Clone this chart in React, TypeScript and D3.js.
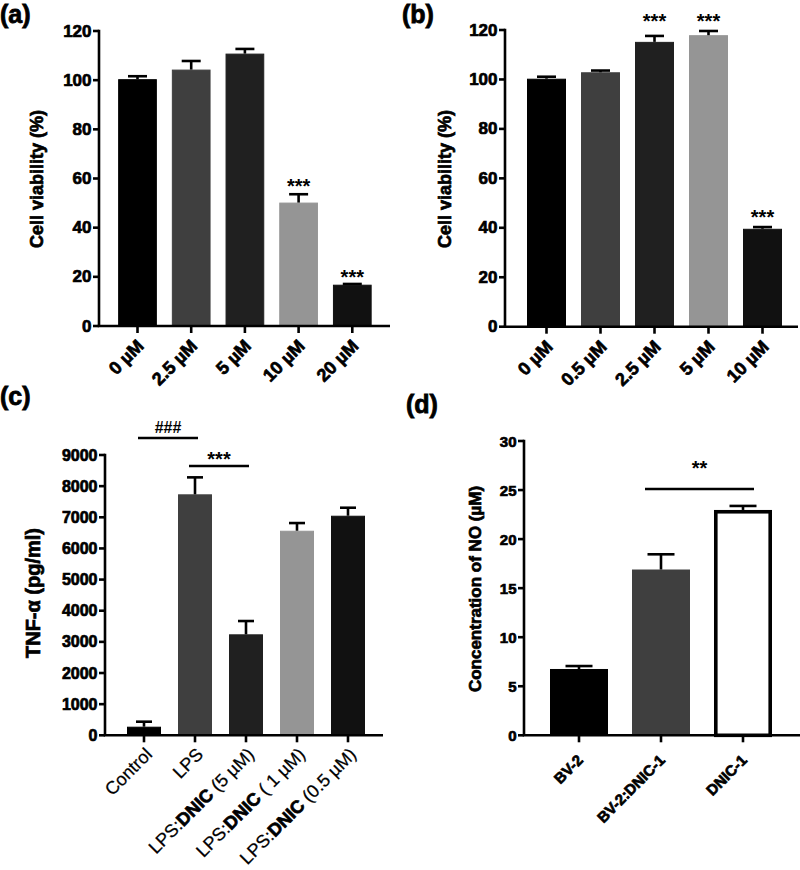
import React from "react";
import * as d3 from "d3";

const FONT = "'Liberation Sans', Arial, Helvetica, sans-serif";

// ---------- Panel (a) ----------
const catsA = ["0 µM", "2.5 µM", "5 µM", "10 µM", "20 µM"];
const valsA = [100.4, 104.3, 110.8, 50.2, 16.8];
const errsA = [1.2, 3.5, 1.9, 3.4, 0.3];
const starsA = ["", "", "", "***", "***"];
const starValsA = [0, 0, 0, 59, 22];
const fillsA = ["#000000", "#3f3f3f", "#202020", "#959595", "#111111"];
const ticksA = [0, 20, 40, 60, 80, 100, 120];

// ---------- Panel (b) ----------
const catsB = ["0 µM", "0.5 µM", "2.5 µM", "5 µM", "10 µM"];
const valsB = [100.3, 102.9, 115.2, 117.9, 39.6];
const errsB = [0.8, 0.7, 2.4, 1.7, 0.7];
const starsB = ["", "", "***", "***", "***"];
const starValsB = [0, 0, 125.3, 125.3, 46.4];
const fillsB = ["#000000", "#3f3f3f", "#202020", "#959595", "#111111"];
const ticksB = [0, 20, 40, 60, 80, 100, 120];

// ---------- Panel (c) ----------
const catsC = ["Control", "LPS", "LPS:DNIC (5 µM)", "LPS:DNIC ( 1 µM)", "LPS:DNIC (0.5 µM)"];
const valsC = [276, 7737, 3242, 6568, 7050];
const errsC = [161, 545, 427, 247, 257];
const fillsC = ["#000000", "#3f3f3f", "#202020", "#959595", "#111111"];
const ticksC = [0, 1000, 2000, 3000, 4000, 5000, 6000, 7000, 8000, 9000];
const bracketsC = [
  { from: 0, to: 1, label: "###", lineVal: 9544, labelVal: 9897 },
  { from: 1, to: 2, label: "***", lineVal: 8645, labelVal: 9030 },
];

// ---------- Panel (d) ----------
const catsD = ["BV-2", "BV-2:DNIC-1", "DNIC-1"];
const valsD = [6.76, 16.9, 22.97];
const errsD = [0.3, 1.55, 0.41];
const fillsD = ["#000000", "#3f3f3f", "#ffffff"];
const ticksD = [0, 5, 10, 15, 20, 25, 30];
const bracketsD = [{ from: 1, to: 2, label: "**", lineVal: 25.1, labelVal: 27.76 }];

type PanelProps = {
  cats: string[];
  vals: number[];
  errs: number[];
  fills: string[];
  ticks: number[];
  stars?: string[];
  starVals?: number[];
  brackets?: { from: number; to: number; label: string; lineVal: number; labelVal: number }[];
  axisX: number;
  yTop: number;
  y0: number;
  xEnd: number;
  c0: number;
  step: number;
  barW: number;
  capHalf: number;
  tickFs: number;
  xFs: number;
  xBold: boolean;
  xDx: number;
  xDy: number;
  yLabel: string;
  yLabelX: number;
  yLabelY: number;
  yLabelFs: number;
  starFs: number;
  bracketL: number;
  bracketR: number;
  richDNIC?: boolean;
};

const HEAVY = { stroke: "#000", strokeWidth: 0.7, paintOrder: "stroke" as const };
const HEAVY_BOLD_SPAN = { stroke: "#000", strokeWidth: 0.7 };

function Panel(p: PanelProps) {
  const n = p.cats.length;
  const pi = 1 - p.barW / p.step;
  const x = d3
    .scaleBand<string>()
    .domain(p.cats)
    .range([p.c0 - p.step / 2, p.c0 - p.step / 2 + n * p.step])
    .paddingInner(pi)
    .paddingOuter(pi / 2);
  const yMax = p.ticks[p.ticks.length - 1];
  const y = d3.scaleLinear().domain([0, yMax]).range([p.y0, p.yTop]);
  const bw = x.bandwidth();
  const cx = (c: string) => (x(c) as number) + bw / 2;
  const LW = 2.6;

  const renderLabel = (c: string) => {
    if (p.richDNIC && c.includes("DNIC")) {
      const i = c.indexOf("DNIC");
      return (
        <>
          <tspan>{c.slice(0, i)}</tspan>
          <tspan fontWeight="bold" {...HEAVY_BOLD_SPAN}>DNIC</tspan>
          <tspan>{c.slice(i + 4)}</tspan>
        </>
      );
    }
    return c;
  };

  return (
    <g fontFamily={FONT}>
      {/* bars */}
      {p.cats.map((c, i) => {
        const white = p.fills[i] === "#ffffff";
        const sw = white ? 3.6 : 1;
        const top = y(p.vals[i]);
        return (
          <rect
            key={"b" + i}
            x={(x(c) as number) + sw / 2}
            y={top + sw / 2}
            width={bw - sw}
            height={p.y0 - top - sw / 2}
            fill={p.fills[i]}
            stroke={white ? "#000" : p.fills[i]}
            strokeWidth={sw}
          />
        );
      })}
      {/* error bars */}
      {p.cats.map((c, i) => {
        const top = y(p.vals[i]);
        const et = y(p.vals[i] + p.errs[i]);
        return (
          <g key={"e" + i} stroke="#000" strokeWidth={LW}>
            <line x1={cx(c)} x2={cx(c)} y1={top} y2={et} />
            <line x1={cx(c) - p.capHalf} x2={cx(c) + p.capHalf} y1={et} y2={et} />
          </g>
        );
      })}
      {/* stars */}
      {p.stars &&
        p.stars.map((s, i) =>
          s ? (
            <text
              key={"s" + i}
              x={cx(p.cats[i])}
              y={y((p.starVals as number[])[i]) + p.starFs * 0.58}
              textAnchor="middle"
              fontSize={p.starFs}
              fontWeight="bold"
            >
              {s}
            </text>
          ) : null
        )}
      {/* brackets */}
      {p.brackets &&
        p.brackets.map((b, i) => {
          const x1 = cx(p.cats[b.from]) + p.bracketL;
          const x2 = cx(p.cats[b.to]) + p.bracketR;
          const isHash = b.label.includes("#");
          return (
            <g key={"k" + i}>
              <line x1={x1} x2={x2} y1={y(b.lineVal)} y2={y(b.lineVal)} stroke="#000" strokeWidth={LW} />
              <text
                x={(x1 + x2) / 2}
                y={y(b.labelVal) + (isHash ? 16 * 0.36 : p.starFs * 0.58)}
                textAnchor="middle"
                fontSize={isHash ? 16 : p.starFs}
                fontWeight="bold"
              >
                {b.label}
              </text>
            </g>
          );
        })}
      {/* y axis */}
      <line x1={p.axisX} x2={p.axisX} y1={p.yTop - LW / 2} y2={p.y0} stroke="#000" strokeWidth={LW} />
      {p.ticks.map((t) => (
        <g key={"t" + t}>
          <line x1={p.axisX - 6} x2={p.axisX} y1={y(t)} y2={y(t)} stroke="#000" strokeWidth={LW} />
          <text
            x={p.axisX - 7.5}
            y={y(t)}
            textAnchor="end"
            dominantBaseline="central"
            fontSize={p.tickFs}
            fontWeight="bold"
            {...HEAVY}
          >
            {t}
          </text>
        </g>
      ))}
      {/* x axis */}
      <line x1={p.axisX - LW / 2} x2={p.xEnd} y1={p.y0} y2={p.y0} stroke="#000" strokeWidth={LW} />
      {p.cats.map((c, i) => (
        <g key={"x" + i}>
          <line x1={cx(c)} x2={cx(c)} y1={p.y0} y2={p.y0 + 7} stroke="#000" strokeWidth={LW} />
          <text
            transform={`translate(${cx(c) + p.xDx},${p.y0 + p.xDy}) rotate(-45)`}
            textAnchor="end"
            dominantBaseline="central"
            fontSize={p.xFs}
            fontWeight={p.xBold ? "bold" : "normal"}
            stroke="#000"
            strokeWidth={p.xBold ? 0.7 : 0.25}
          >
            {renderLabel(c)}
          </text>
        </g>
      ))}
      {/* y label */}
      <text
        transform={`translate(${p.yLabelX},${p.yLabelY}) rotate(-90)`}
        textAnchor="middle"
        dominantBaseline="central"
        fontSize={p.yLabelFs}
        fontWeight="bold"
        {...HEAVY}
      >
        {p.yLabel}
      </text>
    </g>
  );
}

export default function App() {
  return (
    <div style={{ position: "absolute", left: 0, top: 0 }}>
      <svg width={800} height={870} style={{ display: "block", background: "#fff" }}>
        <rect width={800} height={870} fill="#fff" />
        <g fontFamily={FONT} fontWeight="bold" fontSize={25} stroke="#000" strokeWidth={0.8}>
          <text x={0} y={23}>(a)</text>
          <text x={402} y={23}>(b)</text>
          <text x={0} y={405}>(c)</text>
          <text x={406} y={413}>(d)</text>
        </g>
        <Panel
          cats={catsA} vals={valsA} errs={errsA} fills={fillsA} ticks={ticksA}
          stars={starsA} starVals={starValsA}
          axisX={99} yTop={31} y0={326} xEnd={390} c0={137.5} step={53.7} barW={38.7} capHalf={9.5}
          tickFs={17} xFs={18} xBold={true} xDx={3} xDy={17}
          yLabel="Cell viability (%)" yLabelX={37} yLabelY={179} yLabelFs={18}
          starFs={20} bracketL={0} bracketR={0}
        />
        <Panel
          cats={catsB} vals={valsB} errs={errsB} fills={fillsB} ticks={ticksB}
          stars={starsB} starVals={starValsB}
          axisX={505} yTop={30} y0={326.7} xEnd={798} c0={546.5} step={54} barW={39} capHalf={9.5}
          tickFs={17} xFs={18} xBold={true} xDx={3} xDy={17}
          yLabel="Cell viability (%)" yLabelX={445} yLabelY={179} yLabelFs={18}
          starFs={20} bracketL={0} bracketR={0}
        />
        <Panel
          cats={catsC} vals={valsC} errs={errsC} fills={fillsC} ticks={ticksC}
          brackets={bracketsC}
          axisX={105} yTop={455} y0={735.3} xEnd={383} c0={144} step={51} barW={34} capHalf={8}
          tickFs={16} xFs={18} xBold={false} xDx={5} xDy={16}
          yLabel="TNF-α (pg/ml)" yLabelX={33} yLabelY={593} yLabelFs={20}
          starFs={20} bracketL={-6} bracketR={3} richDNIC={true}
        />
        <Panel
          cats={catsD} vals={valsD} errs={errsD} fills={fillsD} ticks={ticksD}
          brackets={bracketsD}
          axisX={524} yTop={441} y0={735.3} xEnd={800} c0={579} step={82} barW={58} capHalf={13.5}
          tickFs={15} xFs={15} xBold={true} xDx={1} xDy={22}
          yLabel="Concentration of NO (µM)" yLabelX={475} yLabelY={589} yLabelFs={17}
          starFs={20} bracketL={-16} bracketR={11}
        />
      </svg>
    </div>
  );
}
